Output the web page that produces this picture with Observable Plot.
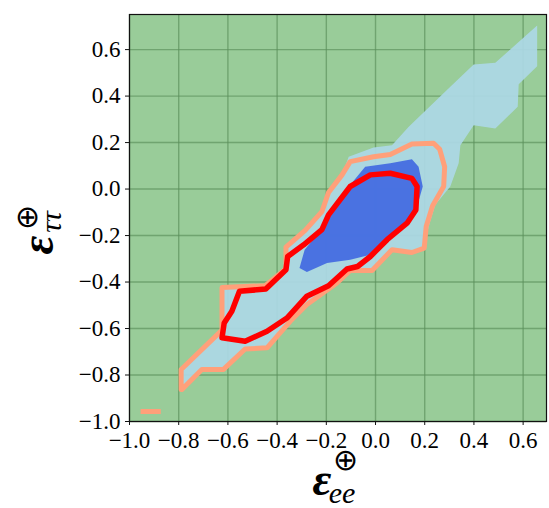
<!DOCTYPE html>
<html>
<head>
<meta charset="utf-8">
<script src="https://cdn.jsdelivr.net/npm/d3@7"></script>
<script src="https://cdn.jsdelivr.net/npm/@observablehq/plot@0.6"></script>
<style>
  html, body { margin: 0; padding: 0; background: #fff; }
  #chart { width: 549px; height: 508px; }
</style>
</head>
<body>
<div id="chart"></div>
<script>
// tick values
const xTicks = [-1.0, -0.8, -0.6, -0.4, -0.2, 0.0, 0.2, 0.4, 0.6];
const yTicks = [-1.0, -0.8, -0.6, -0.4, -0.2, 0.0, 0.2, 0.4, 0.6];

// light blue filled region (outer credible region)
const lightBlueRegion = [
  [-0.790,-0.862],[-0.790,-0.776],[-0.624,-0.607],[-0.624,-0.426],[-0.448,-0.416],
  [-0.364,-0.343],[-0.364,-0.250],[-0.286,-0.178],[-0.218,-0.097],[-0.191,-0.015],
  [-0.136,0.061],[-0.109,0.139],[-0.008,0.179],[0.067,0.189],[0.135,0.268],
  [0.304,0.440],[0.399,0.536],[0.487,0.543],[0.657,0.704],[0.657,0.528],
  [0.582,0.451],[0.578,0.354],[0.487,0.261],[0.399,0.275],[0.345,0.189],
  [0.338,0.111],[0.304,0.011],[0.243,-0.068],[0.216,-0.161],[0.198,-0.254],
  [0.148,-0.273],[0.067,-0.261],[-0.014,-0.350],[-0.103,-0.350],[-0.157,-0.404],
  [-0.279,-0.497],[-0.347,-0.569],[-0.441,-0.683],[-0.530,-0.688],[-0.618,-0.776],
  [-0.706,-0.776],[-0.787,-0.862]
];

// royal blue filled region (inner credible region)
const blueRegion = [
  [-0.309,-0.340],[-0.288,-0.261],[-0.214,-0.168],[-0.191,-0.107],[-0.103,0.018],
  [-0.042,0.096],[0.060,0.111],[0.148,0.128],[0.175,0.096],[0.192,0.011],
  [0.169,-0.075],[0.128,-0.147],[0.047,-0.218],[-0.021,-0.283],[-0.103,-0.304],
  [-0.197,-0.318],[-0.279,-0.357]
];

// salmon contour (outer)
const salmonContour = [
  [-0.790,-0.862],[-0.790,-0.776],[-0.624,-0.607],[-0.624,-0.423],[-0.448,-0.416],
  [-0.364,-0.343],[-0.364,-0.250],[-0.286,-0.178],[-0.218,-0.097],[-0.191,-0.015],
  [-0.136,0.061],[-0.103,0.118],[-0.008,0.139],[0.060,0.149],[0.148,0.194],
  [0.236,0.197],[0.261,0.171],[0.281,0.096],[0.277,0.011],[0.232,-0.072],
  [0.206,-0.161],[0.198,-0.254],[0.148,-0.273],[0.067,-0.261],[-0.014,-0.350],
  [-0.103,-0.350],[-0.157,-0.404],[-0.279,-0.497],[-0.347,-0.569],[-0.441,-0.683],
  [-0.530,-0.688],[-0.618,-0.776],[-0.706,-0.776],[-0.787,-0.862]
];

// small salmon contour piece (bottom left)
const salmonIsland = [[-0.955,-0.957],[-0.873,-0.957]];

// red contour (inner)
const redContour = [
  [-0.624,-0.640],[-0.615,-0.576],[-0.584,-0.526],[-0.553,-0.440],[-0.446,-0.430],
  [-0.364,-0.347],[-0.357,-0.290],[-0.292,-0.240],[-0.218,-0.175],[-0.191,-0.111],
  [-0.103,0.011],[-0.021,0.061],[0.060,0.068],[0.148,0.046],[0.169,0.011],
  [0.164,-0.090],[0.128,-0.147],[0.047,-0.218],[-0.021,-0.290],[-0.073,-0.333],
  [-0.116,-0.344],[-0.191,-0.416],[-0.279,-0.461],[-0.360,-0.555],[-0.441,-0.612],
  [-0.530,-0.655],[-0.624,-0.640]
];

const serif = "'Liberation Serif', 'Times New Roman', serif";
const W = 549, H = 508;
const chart = Plot.plot({
  width: W,
  height: H,
  marginLeft: 129,
  marginRight: 3,
  marginTop: 14,
  marginBottom: 87,
  style: { fontFamily: serif, fontSize: "23px", background: "white", color: "black" },
  x: { domain: [-1.0, 0.695] },
  y: { domain: [-1.0, 0.751] },
  marks: [
    Plot.frame({ fill: "#99cc99", stroke: "none" }),
    Plot.gridX(xTicks, { stroke: "#5a8f5a", strokeOpacity: 0.65, strokeWidth: 1.4 }),
    Plot.gridY(yTicks, { stroke: "#5a8f5a", strokeOpacity: 0.65, strokeWidth: 1.4 }),
    Plot.line(lightBlueRegion, { x: d => d[0], y: d => d[1], fill: "#add8e6", fillOpacity: 0.92, stroke: "none", curve: "linear-closed" }),
    Plot.line(blueRegion, { x: d => d[0], y: d => d[1], fill: "#4169e1", fillOpacity: 0.92, stroke: "none", curve: "linear-closed" }),
    Plot.line(salmonContour, { x: d => d[0], y: d => d[1], stroke: "#ffa07a", strokeWidth: 5, strokeLinejoin: "round" }),
    Plot.line(salmonIsland, { x: d => d[0], y: d => d[1], stroke: "#ffa07a", strokeWidth: 5, strokeLinecap: "butt" }),
    Plot.line(redContour, { x: d => d[0], y: d => d[1], stroke: "#ff0000", strokeWidth: 5.5, strokeLinejoin: "round" }),
    Plot.frame({ stroke: "#111", strokeWidth: 1.2 }),
    Plot.axisX(xTicks, { tickSize: 4, tickPadding: 6, tickFormat: d3.format(".1f"), label: null, stroke: "#111" }),
    Plot.axisY(yTicks, { tickSize: 4, tickPadding: 5, tickFormat: d3.format(".1f"), label: null, stroke: "#111" })
  ]
});
document.getElementById("chart").appendChild(chart);

const svg = d3.select(chart);
// force tick label face and size
svg.selectAll("g[aria-label$='tick label'] text, g[aria-label$='tick label']")
  .style("font-family", serif).style("font-size", "23px").style("font-variant", "normal");

// axis labels (math-like)
const xl = svg.append("g").attr("transform", "translate(322,495)");
xl.append("text").text("ε").style("font-family", serif)
  .style("font-weight", "bold").style("font-style", "italic").style("font-size", "46px").attr("fill", "black");
xl.append("text").text("ee").attr("x", 20).attr("y", 8).style("font-family", serif)
  .style("font-style", "italic").style("font-size", "30px").attr("fill", "black");
xl.append("text").text("⊕").attr("x", 23).attr("y", -25).style("font-family", "'DejaVu Sans'")
  .style("font-weight", "200").style("font-size", "30px").attr("fill", "black");

const yl = svg.append("g").attr("transform", "translate(53,245) rotate(-90)");
yl.append("text").text("ε").style("font-family", serif)
  .style("font-weight", "bold").style("font-style", "italic").style("font-size", "46px").attr("fill", "black");
yl.append("text").text("ττ").attr("x", 23).attr("y", 8).style("font-family", serif)
  .style("font-style", "italic").style("font-size", "30px").attr("fill", "black");
yl.append("text").text("⊕").attr("x", 28).attr("y", -16).style("font-family", "'DejaVu Sans'")
  .style("font-weight", "200").style("font-size", "30px").attr("fill", "black");
</script>
</body>
</html>
